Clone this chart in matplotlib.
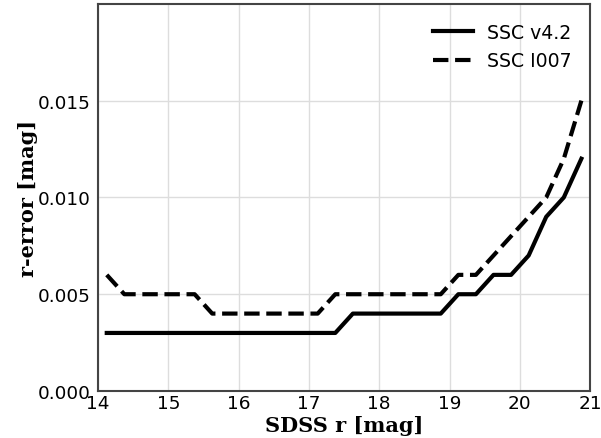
import matplotlib
matplotlib.use("Agg")
import matplotlib.pyplot as plt

r_mag = [14.125, 14.375, 14.625, 14.875, 15.125, 15.375, 15.625, 15.875, 16.125, 16.375,
         16.625, 16.875, 17.125, 17.375, 17.625, 17.875, 18.125, 18.375, 18.625, 18.875,
         19.125, 19.375, 19.625, 19.875, 20.125, 20.375, 20.625, 20.875]
err_v42 = [0.003, 0.003, 0.003, 0.003, 0.003, 0.003, 0.003, 0.003, 0.003, 0.003,
           0.003, 0.003, 0.003, 0.003, 0.004, 0.004, 0.004, 0.004, 0.004, 0.004,
           0.005, 0.005, 0.006, 0.006, 0.007, 0.009, 0.010, 0.012]
err_i007 = [0.006, 0.005, 0.005, 0.005, 0.005, 0.005, 0.004, 0.004, 0.004, 0.004,
            0.004, 0.004, 0.004, 0.005, 0.005, 0.005, 0.005, 0.005, 0.005, 0.005,
            0.006, 0.006, 0.007, 0.008, 0.009, 0.010, 0.012, 0.015]
series_labels = ["SSC v4.2", "SSC I007"]
x_ticks = [14, 15, 16, 17, 18, 19, 20, 21]
y_ticks = [0.000, 0.005, 0.010, 0.015]

fig = plt.figure(figsize=(6.01, 4.39), dpi=100)
ax = fig.add_axes([0.163, 0.107, 0.819, 0.882])

ax.plot(r_mag, err_v42, color="black", lw=3, ls="-", label=series_labels[0])
ax.plot(r_mag, err_i007, color="black", lw=3, ls="--", label=series_labels[1])

ax.set_xlim(14, 21)
ax.set_ylim(0, 0.02)
ax.set_xticks(x_ticks)
ax.set_yticks(y_ticks)
ax.set_yticklabels([f"{v:.3f}" for v in y_ticks])
ax.tick_params(axis="both", length=0, labelsize=13.3)
ax.tick_params(axis="x", pad=2)
ax.tick_params(axis="y", pad=5)
ax.grid(True, color="#dddddd", lw=1)
ax.set_axisbelow(True)
for s in ax.spines.values():
    s.set_color("#444444")
    s.set_linewidth(1.5)

ax.set_xlabel("SDSS r [mag]", family="DejaVu Serif", fontweight="bold", fontsize=15, labelpad=2.5)
ax.set_ylabel("r-error [mag]", family="DejaVu Serif", fontweight="bold", fontsize=15, labelpad=0)

ax.legend(loc="upper right", frameon=False, fontsize=13.6, handlelength=2.1,
          handletextpad=0.75, borderaxespad=0.6)

fig.savefig("out.png", dpi=100)
